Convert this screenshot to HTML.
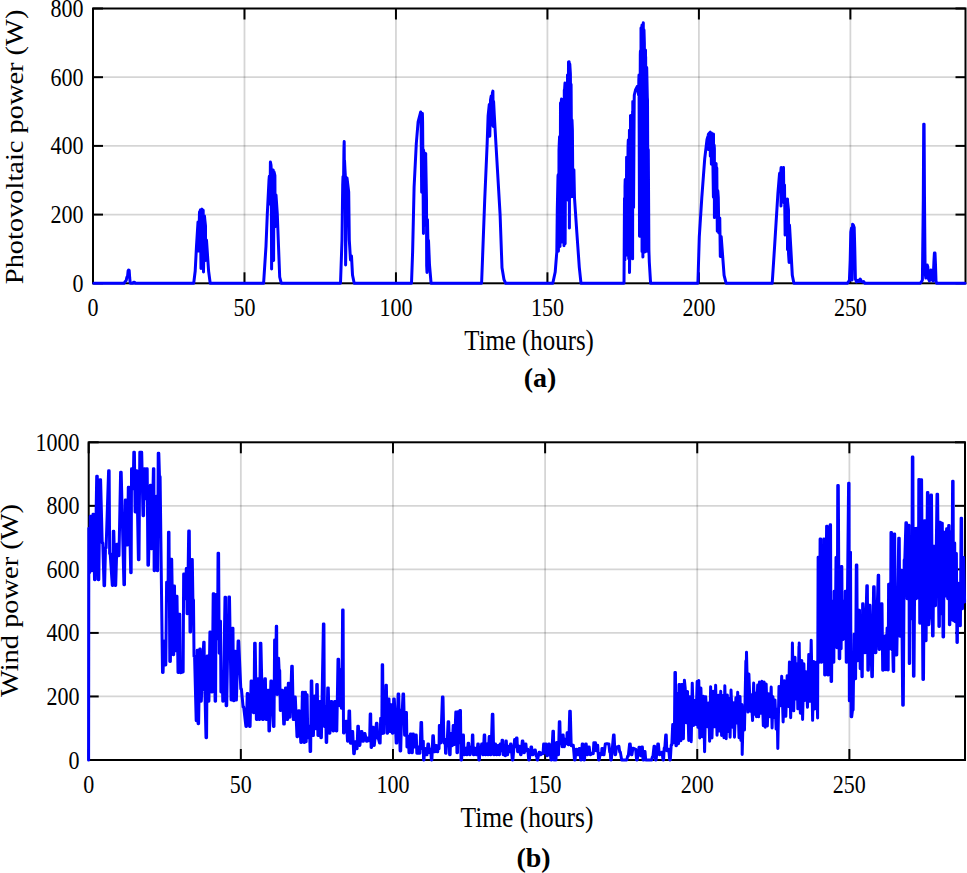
<!DOCTYPE html>
<html><head><meta charset="utf-8"><style>
html,body{margin:0;padding:0;background:#fff;overflow:hidden;}
svg{display:block;font-family:"Liberation Serif",serif;}
</style></head><body>
<svg width="967" height="873" viewBox="0 0 967 873">
<g stroke="#000" stroke-opacity="0.165" stroke-width="1.8"><line x1="244.48" y1="8.50" x2="244.48" y2="283.30"/><line x1="395.95" y1="8.50" x2="395.95" y2="283.30"/><line x1="547.43" y1="8.50" x2="547.43" y2="283.30"/><line x1="698.90" y1="8.50" x2="698.90" y2="283.30"/><line x1="850.38" y1="8.50" x2="850.38" y2="283.30"/><line x1="93.00" y1="214.60" x2="965.50" y2="214.60"/><line x1="93.00" y1="145.90" x2="965.50" y2="145.90"/><line x1="93.00" y1="77.20" x2="965.50" y2="77.20"/></g><g stroke="#000" stroke-width="2" fill="none"><rect x="93.00" y="8.50" width="872.50" height="274.80" fill="none"/><line x1="93.00" y1="283.30" x2="93.00" y2="272.30"/><line x1="93.00" y1="8.50" x2="93.00" y2="19.50"/><line x1="244.48" y1="283.30" x2="244.48" y2="272.30"/><line x1="244.48" y1="8.50" x2="244.48" y2="19.50"/><line x1="395.95" y1="283.30" x2="395.95" y2="272.30"/><line x1="395.95" y1="8.50" x2="395.95" y2="19.50"/><line x1="547.43" y1="283.30" x2="547.43" y2="272.30"/><line x1="547.43" y1="8.50" x2="547.43" y2="19.50"/><line x1="698.90" y1="283.30" x2="698.90" y2="272.30"/><line x1="698.90" y1="8.50" x2="698.90" y2="19.50"/><line x1="850.38" y1="283.30" x2="850.38" y2="272.30"/><line x1="850.38" y1="8.50" x2="850.38" y2="19.50"/><line x1="93.00" y1="283.30" x2="103.00" y2="283.30"/><line x1="965.50" y1="283.30" x2="955.50" y2="283.30"/><line x1="93.00" y1="214.60" x2="103.00" y2="214.60"/><line x1="965.50" y1="214.60" x2="955.50" y2="214.60"/><line x1="93.00" y1="145.90" x2="103.00" y2="145.90"/><line x1="965.50" y1="145.90" x2="955.50" y2="145.90"/><line x1="93.00" y1="77.20" x2="103.00" y2="77.20"/><line x1="965.50" y1="77.20" x2="955.50" y2="77.20"/><line x1="93.00" y1="8.50" x2="103.00" y2="8.50"/><line x1="965.50" y1="8.50" x2="955.50" y2="8.50"/></g><polyline points="93.80,283.30 124.00,283.30 125.00,281.80 126.20,280.50 126.80,277.50 127.60,276.00 128.10,271.00 128.60,270.00 129.20,270.50 129.70,278.00 130.20,283.00 131.00,283.30 132.80,283.30 133.60,282.30 134.50,282.30 135.30,283.30 193.70,283.30 195.20,271.00 196.50,246.00 198.00,222.00 198.60,251.00 199.50,212.00 199.80,211.80 200.50,209.80 200.52,231.00 201.00,268.50 201.18,210.49 202.00,209.20 202.07,241.43 203.08,210.18 203.20,210.20 203.50,272.00 204.02,242.24 204.50,216.00 204.70,218.57 205.50,226.00 205.50,260.50 206.50,240.00 207.50,255.00 208.60,271.00 210.20,283.30 263.60,283.30 266.00,246.00 267.30,214.00 269.00,180.00 269.30,176.32 270.00,204.04 270.40,162.00 271.00,165.00 271.22,169.26 271.60,268.90 272.05,217.52 272.20,175.00 272.62,176.51 273.20,170.00 273.37,238.72 273.60,260.50 274.00,172.99 274.10,172.00 274.90,175.50 275.12,226.65 276.00,195.00 277.30,214.00 278.50,246.00 279.70,277.00 281.30,283.30 340.50,283.30 342.00,240.00 342.70,185.00 343.00,176.65 343.54,182.33 343.93,149.59 344.20,141.60 344.39,182.21 344.50,160.00 344.95,168.97 345.30,175.00 345.60,265.00 346.50,200.00 347.00,178.00 348.70,192.00 349.30,240.00 350.50,260.00 351.50,256.00 352.50,275.00 354.20,283.30 411.50,283.30 412.60,252.40 414.10,187.00 416.30,143.50 418.10,121.80 420.70,112.00 421.00,114.90 421.67,192.21 422.40,113.50 422.60,121.89 423.45,233.48 423.50,150.00 424.49,156.27 425.15,225.07 425.70,153.50 425.71,156.71 426.50,200.00 426.67,265.55 427.00,272.50 427.46,219.65 428.37,262.62 428.50,240.50 429.50,265.00 431.10,283.30 481.60,283.30 484.70,200.30 487.10,145.00 488.10,116.00 489.30,104.40 489.80,136.20 490.50,100.00 491.20,96.00 491.80,125.00 492.40,93.00 492.90,91.10 493.30,126.50 493.60,101.50 494.30,115.00 496.00,145.00 500.10,214.70 502.00,267.70 504.00,279.70 505.70,283.30 552.80,283.30 555.20,272.00 556.80,252.00 557.30,209.00 558.00,176.00 558.20,174.70 558.40,251.30 558.80,223.17 559.00,150.00 559.55,136.72 560.00,246.50 560.22,205.80 560.50,103.00 561.17,104.42 561.50,99.00 561.96,241.96 562.50,105.00 562.78,109.10 563.00,241.50 563.50,100.00 563.75,202.37 564.00,245.70 564.30,90.00 564.33,93.26 565.00,83.00 565.13,243.73 565.60,140.00 566.00,88.00 567.40,140.00 567.50,75.00 567.60,74.97 568.09,200.24 568.50,62.00 568.94,62.99 569.10,61.80 569.40,228.00 569.49,191.48 569.80,64.00 570.40,74.13 571.07,185.98 571.10,84.40 571.80,196.70 571.99,120.03 572.40,130.00 572.89,196.47 573.90,169.70 574.50,198.00 576.90,233.50 579.30,267.30 581.00,283.30 624.00,283.30 624.50,198.40 624.90,260.00 625.00,186.30 625.20,179.50 626.05,223.52 626.20,255.20 626.60,157.20 626.62,158.00 627.25,246.84 628.04,146.67 628.30,140.00 628.69,258.68 629.44,130.29 629.50,272.50 630.28,213.62 630.50,115.50 631.20,115.83 632.08,222.28 632.59,111.12 632.60,258.70 632.80,101.50 633.57,207.52 634.20,100.00 634.30,95.00 635.50,90.00 637.40,86.20 638.60,95.00 638.80,80.25 639.00,75.00 639.54,236.25 640.30,55.00 640.42,51.05 640.94,231.77 641.00,28.00 641.53,30.97 642.00,25.00 642.04,251.56 642.62,25.30 642.90,257.00 643.30,22.70 643.33,252.93 644.00,30.00 644.37,43.05 644.95,236.25 645.50,50.00 645.50,251.80 645.65,56.60 646.21,197.15 646.70,67.50 647.32,97.33 647.50,100.00 648.11,251.48 648.30,149.70 648.90,250.00 649.30,262.00 650.60,283.30 697.90,283.30 699.30,236.60 701.80,197.70 704.70,158.90 707.00,139.40 708.00,136.09 708.50,134.00 708.50,149.50 708.65,147.62 709.23,133.26 710.20,132.20 710.32,156.18 710.90,133.67 711.39,164.15 711.50,133.00 712.50,136.41 713.42,197.16 713.50,134.10 713.50,169.00 714.14,145.17 714.40,148.70 714.40,217.50 715.11,209.57 716.09,163.58 716.71,211.75 716.80,168.00 717.30,231.20 717.82,190.74 718.30,197.70 718.82,232.99 719.77,217.95 720.30,256.50 721.20,236.60 724.10,275.40 726.10,283.30 772.20,283.30 774.60,246.40 777.90,193.40 779.50,174.00 779.80,172.94 780.30,190.61 780.96,168.65 781.00,206.00 781.10,167.50 781.88,192.53 782.65,169.57 783.50,167.50 783.76,192.81 784.00,203.00 784.47,184.95 784.50,185.00 785.10,232.07 785.10,235.00 785.50,199.00 785.71,200.48 786.76,231.54 787.50,198.90 787.50,249.60 787.55,201.45 788.50,210.00 788.54,253.67 789.10,262.50 789.45,226.13 789.50,225.00 790.70,246.00 792.30,275.30 793.90,283.30 847.30,283.30 849.40,280.50 850.20,260.00 850.80,232.00 851.50,228.00 852.10,280.00 852.60,224.20 853.30,225.00 854.20,227.50 854.80,250.00 855.40,279.00 856.50,282.00 858.00,280.30 859.00,281.50 860.20,279.00 861.50,281.50 862.50,282.00 863.60,281.50 865.00,283.30 920.20,283.30 921.50,281.80 922.40,280.00 923.30,200.00 923.70,124.30 924.10,124.30 924.50,200.00 925.10,272.00 925.80,278.00 926.50,270.00 927.20,265.00 927.80,267.00 928.50,279.00 929.40,281.00 930.30,274.00 930.90,270.00 931.50,271.50 932.10,280.00 933.10,281.00 933.90,262.00 934.40,253.00 935.00,253.00 935.50,265.00 936.00,281.00 936.60,283.30 965.00,283.30" fill="none" stroke="#0000ff" stroke-width="3" stroke-linejoin="round" stroke-linecap="round"/><g transform="scale(1,1.16)" font-size="22"><text x="83.40" y="251.59" text-anchor="end">0</text><text x="83.40" y="192.37" text-anchor="end">200</text><text x="83.40" y="133.15" text-anchor="end">400</text><text x="83.40" y="73.92" text-anchor="end">600</text><text x="83.40" y="14.70" text-anchor="end">800</text><text x="93.00" y="272.76" text-anchor="middle">0</text><text x="244.48" y="272.76" text-anchor="middle">50</text><text x="395.95" y="272.76" text-anchor="middle">100</text><text x="547.43" y="272.76" text-anchor="middle">150</text><text x="698.90" y="272.76" text-anchor="middle">200</text><text x="850.38" y="272.76" text-anchor="middle">250</text></g><g transform="scale(1,1.16)" font-size="24.85"><text x="529.10" y="301.90" text-anchor="middle">Time (hours)</text></g><g transform="translate(22.60,146.90) scale(1,1.16) rotate(-90)" font-size="24.5"><text x="0" y="0" text-anchor="middle">Photovoltaic power (W)</text></g><g stroke="#000" stroke-opacity="0.165" stroke-width="1.8"><line x1="240.84" y1="442.30" x2="240.84" y2="760.00"/><line x1="392.97" y1="442.30" x2="392.97" y2="760.00"/><line x1="545.11" y1="442.30" x2="545.11" y2="760.00"/><line x1="697.24" y1="442.30" x2="697.24" y2="760.00"/><line x1="849.38" y1="442.30" x2="849.38" y2="760.00"/><line x1="88.70" y1="696.46" x2="965.00" y2="696.46"/><line x1="88.70" y1="632.92" x2="965.00" y2="632.92"/><line x1="88.70" y1="569.38" x2="965.00" y2="569.38"/><line x1="88.70" y1="505.84" x2="965.00" y2="505.84"/></g><g stroke="#000" stroke-width="2" fill="none"><rect x="88.70" y="442.30" width="876.30" height="317.70" fill="none"/><line x1="88.70" y1="760.00" x2="88.70" y2="749.00"/><line x1="88.70" y1="442.30" x2="88.70" y2="453.30"/><line x1="240.84" y1="760.00" x2="240.84" y2="749.00"/><line x1="240.84" y1="442.30" x2="240.84" y2="453.30"/><line x1="392.97" y1="760.00" x2="392.97" y2="749.00"/><line x1="392.97" y1="442.30" x2="392.97" y2="453.30"/><line x1="545.11" y1="760.00" x2="545.11" y2="749.00"/><line x1="545.11" y1="442.30" x2="545.11" y2="453.30"/><line x1="697.24" y1="760.00" x2="697.24" y2="749.00"/><line x1="697.24" y1="442.30" x2="697.24" y2="453.30"/><line x1="849.38" y1="760.00" x2="849.38" y2="749.00"/><line x1="849.38" y1="442.30" x2="849.38" y2="453.30"/><line x1="88.70" y1="760.00" x2="98.70" y2="760.00"/><line x1="965.00" y1="760.00" x2="955.00" y2="760.00"/><line x1="88.70" y1="696.46" x2="98.70" y2="696.46"/><line x1="965.00" y1="696.46" x2="955.00" y2="696.46"/><line x1="88.70" y1="632.92" x2="98.70" y2="632.92"/><line x1="965.00" y1="632.92" x2="955.00" y2="632.92"/><line x1="88.70" y1="569.38" x2="98.70" y2="569.38"/><line x1="965.00" y1="569.38" x2="955.00" y2="569.38"/><line x1="88.70" y1="505.84" x2="98.70" y2="505.84"/><line x1="965.00" y1="505.84" x2="955.00" y2="505.84"/><line x1="88.70" y1="442.30" x2="98.70" y2="442.30"/><line x1="965.00" y1="442.30" x2="955.00" y2="442.30"/></g><polyline points="88.60,759.90 88.83,528.30 89.00,528.30 89.20,572.70 89.60,572.70 90.30,516.30 90.90,516.30 91.60,570.70 92.20,570.70 93.00,514.30 93.60,514.30 94.50,579.70 95.10,579.70 96.70,476.30 97.30,476.30 98.20,579.70 98.80,579.70 100.00,479.80 100.60,479.80 102.20,543.00 102.80,543.00 104.00,585.70 104.60,585.70 105.50,548.00 106.10,548.00 108.60,470.70 109.15,470.70 109.65,553.80 110.20,553.80 112.30,585.50 112.82,585.50 113.28,531.30 113.80,531.30 115.10,585.50 115.70,585.50 116.90,544.30 117.50,544.30 118.40,555.70 119.00,555.70 120.60,472.30 121.20,472.30 123.90,584.70 124.50,584.70 125.30,500.00 125.90,500.00 127.00,545.10 127.60,545.10 128.30,487.20 128.90,487.20 130.70,572.70 131.18,572.70 131.52,468.80 132.00,468.80 132.60,488.70 133.20,488.70 133.80,452.30 134.40,452.30 135.10,512.10 135.68,512.10 136.22,470.70 136.80,470.70 138.40,559.70 139.00,559.70 139.80,452.30 140.28,452.30 140.62,478.70 140.95,478.70 141.25,452.30 141.70,452.30 143.00,515.70 143.60,515.70 144.30,468.80 144.90,468.80 145.50,498.70 146.08,498.70 146.62,468.80 147.20,468.80 147.90,565.30 148.50,565.30 150.30,485.30 150.82,485.30 151.28,548.70 151.80,548.70 153.40,468.80 153.85,468.80 154.15,570.70 154.60,570.70 156.40,496.30 156.88,496.30 157.22,570.70 157.68,570.70 158.22,453.30 158.80,453.30 159.50,476.70 160.10,476.70 162.50,672.50 163.10,672.50 163.90,641.30 164.50,641.30 165.20,665.10 165.80,665.10 166.60,582.30 167.12,582.30 167.58,598.70 168.03,598.70 168.47,532.20 169.00,532.20 169.80,661.50 170.40,661.50 171.10,559.30 171.70,559.30 173.20,654.70 173.68,654.70 174.02,585.90 174.50,585.90 175.20,650.70 175.80,650.70 176.40,596.20 177.00,596.20 178.00,672.50 178.60,672.50 179.20,614.30 179.78,614.30 180.32,672.70 180.90,672.70 182.60,672.00 183.15,672.00 183.65,574.10 184.20,574.10 184.90,598.70 185.50,598.70 186.30,568.60 186.75,568.60 187.05,613.70 187.50,613.70 188.70,531.00 189.30,531.00 190.00,632.10 190.60,632.10 191.70,559.60 192.30,559.60 192.90,600.00 193.47,600.00 194.03,656.60 194.60,656.60 196.20,720.70 196.75,720.70 197.25,650.30 197.70,650.30 198.10,723.70 198.60,723.70 199.80,649.00 200.32,649.00 200.78,701.30 201.30,701.30 203.70,642.20 204.15,642.20 204.45,690.00 204.90,690.00 206.00,737.70 206.58,737.70 207.12,655.90 207.70,655.90 208.30,701.30 208.90,701.30 209.90,631.90 210.50,631.90 211.70,692.10 212.30,692.10 213.20,593.80 213.80,593.80 215.10,701.30 215.60,701.30 216.00,594.60 216.47,594.60 217.03,638.70 217.55,638.70 218.05,553.30 218.60,553.30 219.20,653.30 219.70,653.30 220.10,621.30 220.50,621.30 220.90,692.10 221.32,692.10 221.78,671.30 222.25,671.30 222.75,701.30 223.30,701.30 225.00,597.30 225.58,597.30 226.12,705.70 226.70,705.70 227.70,645.40 228.30,645.40 228.90,596.90 229.50,596.90 231.10,700.10 231.70,700.10 232.40,628.30 232.97,628.30 233.53,700.70 234.08,700.70 234.62,651.30 235.20,651.30 235.80,700.10 236.40,700.10 238.10,641.00 238.70,641.00 240.80,688.90 241.40,688.90 243.10,707.00 243.70,707.00 245.90,726.40 246.50,726.40 247.20,693.60 247.80,693.60 249.50,726.40 250.10,726.40 251.10,681.00 251.70,681.00 253.40,712.70 254.00,712.70 254.60,643.30 255.20,643.30 256.40,719.60 257.00,719.60 258.00,678.70 258.57,678.70 259.12,719.60 259.70,719.60 260.30,643.30 260.90,643.30 262.60,719.60 263.20,719.60 264.80,678.70 265.40,678.70 266.00,719.60 266.60,719.60 267.80,690.20 268.38,690.20 268.93,731.00 269.50,731.00 270.90,681.00 271.50,681.00 273.40,726.40 274.00,726.40 274.60,639.90 275.10,639.90 275.50,658.70 275.90,658.70 276.30,626.20 276.65,626.20 276.95,694.40 277.40,694.40 278.00,658.20 278.57,658.20 279.12,670.60 279.70,670.60 280.30,710.40 280.90,710.40 281.90,690.20 282.50,690.20 283.70,724.10 284.30,724.10 285.50,687.90 286.10,687.90 287.10,719.60 287.70,719.60 288.30,683.30 288.88,683.30 289.43,717.30 290.00,717.30 291.70,666.20 292.30,666.20 293.30,719.60 293.90,719.60 294.70,697.00 295.30,697.00 297.00,736.70 297.60,736.70 298.60,710.70 299.20,710.70 300.80,742.40 301.40,742.40 302.40,692.30 303.00,692.30 304.00,742.40 304.55,742.40 305.05,692.30 305.48,692.30 305.82,741.70 306.20,741.70 306.60,694.70 307.10,694.70 307.80,737.70 308.38,737.70 308.93,726.30 309.50,726.30 310.10,751.60 310.67,751.60 311.23,681.00 311.80,681.00 312.80,735.60 313.40,735.60 314.70,695.90 315.23,695.90 315.67,728.70 316.17,728.70 316.73,684.40 317.30,684.40 317.90,735.60 318.50,735.60 319.70,701.60 320.27,701.60 320.83,737.70 321.40,737.70 323.40,623.90 323.93,623.90 324.38,726.40 324.83,726.40 325.27,706.30 325.73,706.30 326.17,742.40 326.70,742.40 327.70,687.90 328.30,687.90 329.30,733.30 329.90,733.30 331.10,701.60 331.70,701.60 333.00,731.00 333.60,731.00 334.60,701.60 335.20,701.60 336.20,731.00 336.80,731.00 338.00,659.30 338.60,659.30 339.80,705.70 340.23,705.70 340.48,669.70 340.85,669.70 341.35,708.30 341.90,708.30 342.60,609.90 343.10,609.90 343.50,733.00 344.00,733.00 345.90,721.20 346.50,721.20 347.50,741.30 348.10,741.30 349.00,710.90 349.60,710.90 350.40,743.30 351.00,743.30 352.10,731.50 352.70,731.50 353.70,753.70 354.30,753.70 355.20,741.80 355.80,741.80 356.50,748.70 357.10,748.70 357.80,726.30 358.40,726.30 359.30,745.40 359.90,745.40 361.30,731.50 361.90,731.50 362.80,741.30 363.40,741.30 364.40,733.60 365.00,733.60 366.50,741.30 367.10,741.30 368.20,737.70 368.70,737.70 369.10,740.70 369.60,740.70 370.20,714.00 370.70,714.00 371.10,747.50 371.60,747.50 372.70,727.30 373.25,727.30 373.75,745.40 374.30,745.40 376.40,723.30 377.00,723.30 377.80,738.50 378.40,738.50 379.60,743.10 380.15,743.10 380.65,718.30 381.07,718.30 381.43,733.70 381.80,733.70 382.20,664.70 382.65,664.70 383.15,733.30 383.70,733.30 384.50,695.00 384.95,695.00 385.25,708.70 385.57,708.70 385.93,685.20 386.40,685.20 387.00,733.30 387.60,733.30 388.40,698.90 389.00,698.90 389.70,731.40 390.30,731.40 390.90,704.70 391.50,704.70 392.30,733.30 392.90,733.30 393.70,698.90 394.30,698.90 396.20,743.10 396.80,743.10 398.10,694.00 398.70,694.00 400.10,750.90 400.70,750.90 401.70,710.00 402.30,710.00 403.00,694.00 403.60,694.00 404.60,735.30 405.20,735.30 405.90,712.50 406.45,712.50 406.95,747.00 407.45,747.00 407.95,736.30 408.45,736.30 408.95,752.80 409.50,752.80 410.40,734.00 411.00,734.00 411.80,752.80 412.35,752.80 412.85,734.00 413.40,734.00 414.30,747.00 414.90,747.00 415.70,735.10 416.27,735.10 416.83,753.30 417.38,753.30 417.93,747.00 418.50,747.00 419.40,753.30 420.00,753.30 421.00,722.40 421.60,722.40 422.30,748.80 422.75,748.80 423.05,741.30 423.32,741.30 423.57,759.90 424.00,759.90 424.60,748.40 425.20,748.40 426.40,754.80 427.00,754.80 427.90,744.00 428.50,744.00 429.50,752.70 429.98,752.70 430.32,749.30 430.77,749.30 431.33,759.90 431.90,759.90 432.80,735.80 433.40,735.80 434.30,751.80 434.90,751.80 435.70,745.50 436.30,745.50 437.20,751.80 437.70,751.80 438.10,745.50 438.45,745.50 438.75,748.70 439.05,748.70 439.35,725.40 439.75,725.40 440.25,742.90 440.80,742.90 442.40,697.10 443.00,697.10 443.90,742.90 444.40,742.90 444.80,739.30 445.18,739.30 445.52,753.30 446.00,753.30 446.70,740.00 447.30,740.00 448.10,721.70 448.70,721.70 449.60,754.80 450.15,754.80 450.65,733.60 451.17,733.60 451.73,745.80 452.30,745.80 453.20,725.40 453.70,725.40 454.10,744.40 454.60,744.40 455.80,712.00 456.38,712.00 456.93,752.70 457.50,752.70 458.10,711.80 458.60,711.80 459.00,742.70 459.45,742.70 459.95,710.50 460.48,710.50 461.02,759.90 461.60,759.90 462.90,735.10 463.45,735.10 463.95,754.70 464.50,754.70 465.40,748.30 466.00,748.30 466.60,754.70 467.20,754.70 468.10,743.30 468.70,743.30 469.60,754.70 470.20,754.70 470.80,747.00 471.28,747.00 471.62,750.70 472.00,750.70 472.40,735.10 472.85,735.10 473.35,754.70 473.90,754.70 474.80,748.30 475.40,748.30 476.30,754.70 476.90,754.70 477.80,744.00 478.35,744.00 478.85,759.90 479.40,759.90 480.00,748.30 480.48,748.30 480.82,750.70 481.20,750.70 481.60,744.00 482.10,744.00 482.70,754.70 483.30,754.70 484.20,735.10 484.75,735.10 485.25,754.70 485.80,754.70 486.70,744.00 487.25,744.00 487.75,754.70 488.30,754.70 489.20,736.50 489.80,736.50 490.40,754.70 491.00,754.70 492.30,714.20 492.90,714.20 493.70,754.70 494.30,754.70 494.90,744.00 495.50,744.00 496.40,754.70 497.00,754.70 497.90,745.50 498.48,745.50 499.02,754.70 499.57,754.70 500.12,744.00 500.62,744.00 501.07,750.70 501.55,750.70 502.05,740.30 502.57,740.30 503.12,754.70 503.67,754.70 504.23,749.30 504.70,749.30 505.10,755.70 505.48,755.70 505.82,741.00 506.30,741.00 507.00,754.70 507.60,754.70 508.70,746.30 509.25,746.30 509.75,751.70 510.18,751.70 510.52,744.00 511.00,744.00 512.30,759.90 512.90,759.90 514.60,739.50 515.10,739.50 515.50,746.70 515.95,746.70 516.45,738.00 517.00,738.00 517.60,751.70 518.20,751.70 519.00,746.30 519.60,746.30 520.50,754.70 521.10,754.70 522.30,741.00 522.90,741.00 523.80,752.70 524.40,752.70 525.30,744.00 525.90,744.00 526.50,750.70 526.97,750.70 527.33,749.30 527.80,749.30 528.70,759.90 529.30,759.90 531.00,747.00 531.60,747.00 532.40,754.70 533.00,754.70 534.70,749.90 535.30,749.90 536.20,756.00 536.70,756.00 537.10,759.90 537.60,759.90 539.10,752.30 539.67,752.30 540.23,754.70 540.80,754.70 541.40,752.90 541.98,752.90 542.52,753.70 543.07,753.70 543.62,744.00 544.20,744.00 545.10,752.70 545.48,752.70 545.62,744.00 546.00,744.00 546.90,755.70 547.50,755.70 548.70,744.00 549.30,744.00 551.00,759.90 551.60,759.90 552.90,731.30 553.45,731.30 553.95,759.90 554.45,759.90 554.95,749.30 555.33,749.30 555.58,759.90 556.00,759.90 556.60,742.50 557.20,742.50 557.90,754.70 558.50,754.70 559.30,721.70 559.85,721.70 560.35,743.70 560.85,743.70 561.35,739.30 561.75,739.30 562.05,746.70 562.38,746.70 562.73,735.10 563.20,735.10 563.80,746.70 564.40,746.70 565.20,739.30 565.75,739.30 566.25,743.70 566.70,743.70 567.10,732.80 567.60,732.80 568.20,744.70 568.80,744.70 569.70,711.30 570.30,711.30 571.20,745.80 571.80,745.80 572.70,745.30 573.30,745.30 574.50,759.90 575.10,759.90 576.00,749.30 576.60,749.30 577.50,754.70 578.10,754.70 579.20,748.40 579.80,748.40 580.70,759.90 581.30,759.90 582.20,744.00 582.80,744.00 583.90,759.90 584.50,759.90 585.60,744.00 586.20,744.00 587.10,754.70 587.70,754.70 588.60,747.00 589.20,747.00 590.10,754.70 590.70,754.70 591.70,753.30 592.25,753.30 592.75,753.70 593.27,753.70 593.83,742.70 594.38,742.70 594.93,742.70 595.45,742.70 595.95,750.70 596.50,750.70 597.10,745.30 597.70,745.30 598.60,759.90 599.20,759.90 600.20,753.30 600.67,753.30 601.03,754.70 601.45,754.70 601.95,748.40 602.50,748.40 603.40,754.70 604.00,754.70 605.30,744.00 605.90,744.00 606.70,743.70 607.30,743.70 608.30,744.00 608.90,744.00 609.70,752.00 610.25,752.00 610.75,759.90 611.30,759.90 613.50,735.10 614.10,735.10 615.00,754.70 615.60,754.70 616.50,747.00 617.05,747.00 617.55,746.70 618.00,746.70 618.40,746.30 618.90,746.30 619.70,752.00 620.30,752.00 621.70,759.90 622.30,759.90 623.90,759.90 624.50,759.90 626.20,759.90 626.80,759.90 627.70,756.00 628.30,756.00 629.60,744.00 630.20,744.00 631.30,754.70 631.90,754.70 632.90,748.30 633.50,748.30 634.30,748.70 634.80,748.70 635.20,749.30 635.70,749.30 636.60,759.90 637.20,759.90 639.00,747.30 639.60,747.30 640.70,755.70 641.27,755.70 641.83,747.00 642.40,747.00 643.00,759.90 643.60,759.90 644.40,751.40 645.00,751.40 645.70,759.90 646.30,759.90 648.10,759.90 648.70,759.90 651.10,759.90 651.70,759.90 652.30,757.00 652.90,757.00 654.00,746.30 654.60,746.30 655.50,759.90 656.10,759.90 657.80,744.00 658.40,744.00 659.30,754.70 659.90,754.70 661.50,752.30 662.10,752.30 663.00,759.90 663.60,759.90 664.20,748.00 664.80,748.00 665.70,735.10 666.25,735.10 666.75,750.70 667.30,750.70 668.10,749.30 668.70,749.30 669.70,759.90 670.30,759.90 671.20,745.00 671.80,745.00 672.70,724.60 673.27,724.60 673.83,742.70 674.38,742.70 674.93,672.60 675.45,672.60 675.95,745.70 676.43,745.70 676.88,693.40 677.38,693.40 677.93,743.70 678.48,743.70 679.02,684.50 679.60,684.50 680.30,740.70 680.90,740.70 681.60,684.50 682.20,684.50 682.80,738.70 683.40,738.70 684.40,680.20 685.20,688.03 686.39,722.85 687.52,691.40 688.73,740.41 689.89,696.79 691.24,741.66 692.25,683.13 693.62,725.46 694.45,700.52 695.92,724.49 697.15,681.59 697.97,727.37 698.81,680.60 699.78,737.98 700.91,687.95 702.30,736.63 703.54,696.37 704.60,751.80 705.72,696.74 707.21,726.77 708.60,703.05 709.62,741.28 710.63,686.73 711.96,738.02 713.35,691.33 714.81,726.86 715.62,685.37 717.05,735.29 718.53,695.26 719.39,731.09 720.73,691.22 721.60,735.52 723.07,695.45 723.95,737.63 724.83,685.83 726.18,738.74 727.37,694.92 728.31,731.62 729.21,698.56 730.09,737.20 731.04,689.96 732.52,727.23 733.53,702.69 734.48,737.21 735.88,697.72 736.75,722.91 737.70,692.26 739.04,737.74 740.05,696.58 740.92,740.59 741.89,704.41 742.20,754.40 743.32,707.03 744.46,729.92 745.86,661.10 745.90,704.44 746.50,652.20 747.93,712.12 748.91,673.99 750.22,711.24 751.16,694.84 752.58,720.55 753.67,683.01 754.51,714.30 755.48,693.28 756.46,716.77 757.67,685.04 758.60,716.84 759.45,682.02 760.64,713.15 761.87,681.27 763.31,725.69 764.13,681.95 765.24,727.20 766.17,683.96 767.37,725.93 768.42,693.80 769.90,716.65 771.18,687.09 772.09,728.06 772.90,696.64 774.19,717.59 775.01,699.88 776.15,729.07 777.17,708.89 777.80,748.50 778.98,686.57 780.41,705.80 781.70,676.31 783.13,721.92 784.41,680.67 785.82,716.36 787.17,675.65 788.37,706.40 789.44,662.08 790.66,717.73 791.91,669.58 791.80,692.25 792.40,643.10 793.71,710.85 795.02,657.16 796.13,699.07 796.99,664.02 797.82,708.85 798.95,646.57 798.60,695.85 799.20,643.10 800.35,713.24 801.79,660.40 802.60,719.57 803.87,663.70 804.80,700.51 806.06,671.78 807.48,707.33 808.74,654.52 809.84,701.35 811.20,640.20 812.61,720.36 813.82,661.55 814.72,708.96 816.10,662.32 817.60,718.00 818.12,557.30 818.52,557.30 818.98,662.20 819.50,662.20 820.10,539.00 820.67,539.00 821.23,662.20 821.75,662.20 822.25,601.30 822.67,601.30 823.03,648.70 823.38,648.70 823.73,539.00 824.15,539.00 824.65,675.10 825.20,675.10 826.60,526.30 827.20,526.30 827.80,675.10 828.33,675.10 828.77,561.30 829.17,561.30 829.53,618.70 829.85,618.70 830.15,524.80 830.55,524.80 831.05,681.50 831.60,681.50 832.20,601.30 832.80,601.30 833.40,662.20 833.85,662.20 834.15,591.30 834.47,591.30 834.83,638.70 835.30,638.70 836.00,557.50 836.47,557.50 836.83,647.70 837.25,647.70 837.75,485.40 838.30,485.40 839.20,658.70 839.75,658.70 840.25,601.30 840.62,601.30 840.88,648.70 841.15,648.70 841.45,566.50 841.83,566.50 842.27,639.70 842.75,639.70 843.25,601.30 843.80,601.30 844.40,638.70 844.90,638.70 845.30,591.30 845.75,591.30 846.25,662.20 846.80,662.20 848.60,483.20 849.05,483.20 849.35,700.70 849.67,700.70 850.03,552.30 850.50,552.30 851.10,716.70 851.70,716.70 852.50,710.00 853.10,710.00 854.10,634.30 854.62,634.30 855.07,678.70 855.60,678.70 856.30,565.00 856.85,565.00 857.35,660.70 857.90,660.70 858.90,610.30 859.50,610.30 860.20,668.70 860.70,668.70 861.10,641.30 861.50,641.30 861.90,676.70 862.27,676.70 862.62,603.80 863.10,603.80 864.60,652.70 865.20,652.70 866.80,585.80 867.35,585.80 867.85,670.30 868.40,670.30 869.40,605.30 870.00,605.30 871.80,676.70 872.40,676.70 873.60,586.80 874.20,586.80 875.30,652.70 875.90,652.70 878.20,575.30 878.70,575.30 879.10,649.40 879.60,649.40 881.40,603.80 882.00,603.80 882.70,670.30 883.30,670.30 885.00,635.90 885.42,635.90 885.67,669.70 886.10,669.70 887.10,627.90 887.55,627.90 887.85,669.90 888.20,669.90 888.60,584.30 889.10,584.30 890.00,648.70 890.52,648.70 890.98,532.40 891.50,532.40 892.20,650.30 892.75,650.30 893.25,671.50 893.73,671.50 894.17,534.00 894.67,534.00 895.23,655.00 895.75,655.00 896.25,655.00 896.80,655.00 898.70,538.30 899.27,538.30 899.83,636.20 900.38,636.20 900.93,570.30 901.50,570.30 902.70,705.20 903.30,705.20 904.20,560.00 904.80,560.00 905.90,522.80 906.48,522.80 907.02,598.70 907.60,598.70 908.60,525.20 909.02,525.20 909.27,663.50 909.67,663.50 910.23,544.50 910.75,544.50 911.25,618.70 911.77,618.70 912.33,456.90 912.88,456.90 913.43,676.30 914.00,676.30 915.00,528.40 915.47,528.40 915.83,598.70 916.30,598.70 917.10,528.30 917.60,528.30 918.00,597.70 918.40,597.70 918.80,479.40 919.25,479.40 919.75,623.30 920.30,623.30 921.00,479.70 921.60,479.70 922.90,679.40 923.50,679.40 924.50,520.70 925.05,520.70 925.55,640.70 926.10,640.70 927.40,492.60 927.93,492.60 928.38,624.70 928.85,624.70 929.35,618.00 929.90,618.00 930.90,495.00 931.50,495.00 932.50,636.10 933.10,636.10 933.70,546.30 934.30,546.30 934.90,605.70 935.50,605.70 937.00,494.20 937.60,494.20 938.90,626.40 939.40,626.40 939.80,522.30 940.23,522.30 940.67,613.70 941.17,613.70 941.73,523.30 942.30,523.30 943.00,636.90 943.60,636.90 944.20,532.30 944.80,532.30 945.70,596.00 946.20,596.00 946.60,528.70 947.10,528.70 947.70,598.70 948.23,598.70 948.67,525.50 949.08,525.50 949.42,624.70 949.83,624.70 950.27,531.90 950.75,531.90 951.25,619.70 951.80,619.70 952.60,481.30 953.10,481.30 953.50,620.70 953.90,620.70 954.30,543.10 954.70,543.10 955.10,621.70 955.50,621.70 955.90,553.50 956.38,553.50 956.93,642.50 957.38,642.50 957.73,583.30 958.08,583.30 958.42,625.70 958.77,625.70 959.12,594.30 959.50,594.30 959.90,625.70 960.40,625.70 961.10,518.30 961.60,518.30 962.00,608.70 962.48,608.70 963.02,557.50 963.60,557.50 964.60,602.00" fill="none" stroke="#0000ff" stroke-width="3" stroke-linejoin="round" stroke-linecap="round"/><g transform="scale(1,1.16)" font-size="22"><text x="79.60" y="662.54" text-anchor="end">0</text><text x="79.60" y="607.77" text-anchor="end">200</text><text x="79.60" y="552.99" text-anchor="end">400</text><text x="79.60" y="498.21" text-anchor="end">600</text><text x="79.60" y="443.44" text-anchor="end">800</text><text x="79.60" y="388.66" text-anchor="end">1000</text><text x="88.70" y="683.96" text-anchor="middle">0</text><text x="240.84" y="683.96" text-anchor="middle">50</text><text x="392.97" y="683.96" text-anchor="middle">100</text><text x="545.11" y="683.96" text-anchor="middle">150</text><text x="697.24" y="683.96" text-anchor="middle">200</text><text x="849.38" y="683.96" text-anchor="middle">250</text></g><g transform="scale(1,1.16)" font-size="25.5"><text x="527.00" y="712.59" text-anchor="middle">Time (hours)</text></g><g transform="translate(18.00,600.50) scale(1,1.16) rotate(-90)" font-size="24.5"><text x="0" y="0" text-anchor="middle">Wind power (W)</text></g><g font-weight="bold" font-size="28"><text x="540" y="386.5" text-anchor="middle">(a)</text><text x="533.5" y="867" text-anchor="middle">(b)</text></g>
</svg></body></html>
